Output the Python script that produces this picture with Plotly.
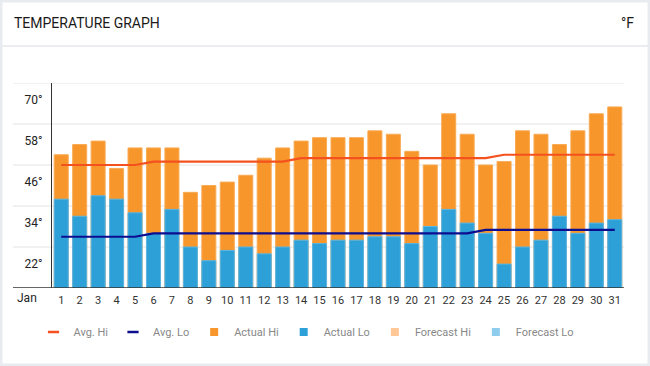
import plotly.graph_objects as go

# ---------------- data ----------------
days = list(range(1, 32))
day_labels = [str(d) for d in days]
actual_hi = [55, 58, 59, 51, 57, 57, 57, 44, 46, 47, 49, 54, 57, 59, 60, 60, 60, 62, 61, 56,
             52, 67, 61, 52, 53, 62, 61, 58, 62, 67, 69]
actual_lo = [42, 37, 43, 42, 38, 32, 39, 28, 24, 27, 28, 26, 28, 30, 29, 30, 30, 31, 31, 29,
             34, 39, 35, 32, 23, 28, 30, 37, 32, 35, 36]
avg_hi = [52] * 5 + [53] * 8 + [54] * 11 + [55] * 7
avg_lo = [31] * 5 + [32] * 18 + [33] * 8
y_ticks = [22, 34, 46, 58, 70]
y_tick_labels = [f"{v}°" for v in y_ticks]
grid_vals = [28, 40, 52, 64, 76]
y_min, y_max = 16, 76

# ---------------- style ----------------
W, H = 650, 366
L, R, T, B = 52, 26, 83, 78
PW, PH = W - L - R, H - T - B
ORANGE = "#F7962A"
BLUE = "#2EA0D8"
RED = "#F4511E"
NAVY = "#0D0D8F"
FC_HI = "#FFC896"
FC_LO = "#8FCDEE"
FONT = "Roboto"


def px_x(p):
    return (p - L) / PW


def px_y(p):
    return (H - B - p) / PH


fig = go.Figure()
fig.add_trace(go.Bar(x=days, y=actual_hi, name="Actual Hi", marker=dict(color=ORANGE, line=dict(color="#F9AB55", width=1)),
                     width=0.76, showlegend=False))
fig.add_trace(go.Bar(x=days, y=actual_lo, name="Actual Lo", marker=dict(color=BLUE, line=dict(color="#5BB5E2", width=1)),
                     width=0.76, showlegend=False))
fig.add_trace(go.Scatter(x=days, y=avg_hi, mode="lines", name="Avg. Hi", line=dict(color=RED, width=2.2), showlegend=False))
fig.add_trace(go.Scatter(x=days, y=avg_lo, mode="lines", name="Avg. Lo", line=dict(color=NAVY, width=2.2), showlegend=False))

# legend entries
fig.add_trace(go.Scatter(x=[None], y=[None], mode="markers", name="Avg. Hi",
                         marker=dict(symbol="line-ew", size=8, line=dict(color=RED, width=2.5))))
fig.add_trace(go.Scatter(x=[None], y=[None], mode="markers", name="Avg. Lo",
                         marker=dict(symbol="line-ew", size=8, line=dict(color=NAVY, width=2.5))))
for nm, c in [("Actual Hi", ORANGE), ("Actual Lo", BLUE), ("Forecast Hi", FC_HI), ("Forecast Lo", FC_LO)]:
    fig.add_trace(go.Scatter(x=[None], y=[None], mode="markers", name=nm,
                             marker=dict(symbol="square", size=8, color=c)))

shapes = []
for g in grid_vals:
    shapes.append(dict(type="line", xref="paper", yref="y", x0=px_x(13), x1=1, y0=g, y1=g,
                       line=dict(color="#E4E4E4", width=1), layer="below"))
shapes.append(dict(type="line", xref="paper", yref="y", x0=px_x(13), x1=1, y0=y_min, y1=y_min,
                   line=dict(color="#333333", width=1.5), layer="above"))
# header separator
shapes.append(dict(type="line", xref="paper", yref="paper", x0=px_x(0), x1=px_x(W), y0=px_y(46), y1=px_y(46),
                   line=dict(color="#E3E6EA", width=1.5)))
# card frame
shapes.append(dict(type="rect", xref="paper", yref="paper", x0=px_x(0), x1=px_x(W), y0=px_y(0), y1=px_y(H),
                   line=dict(color="#E8ECF0", width=5), fillcolor="rgba(0,0,0,0)"))

annotations = [
    dict(text="TEMPERATURE GRAPH", xref="paper", yref="paper", x=px_x(12), y=px_y(23), xanchor="left", yanchor="middle",
         showarrow=False, font=dict(family=FONT, size=14, color="#1A1A1A")),
    dict(text="°F", xref="paper", yref="paper", x=px_x(636), y=px_y(23), xanchor="right", yanchor="middle",
         showarrow=False, font=dict(family=FONT, size=14, color="#1A1A1A")),
    dict(text="Jan", xref="paper", yref="paper", x=px_x(27), y=px_y(298), xanchor="center", yanchor="middle",
         showarrow=False, font=dict(family=FONT, size=12, color="#222222")),
]

fig.update_layout(
    width=W, height=H,
    margin=dict(l=L, r=R, t=T, b=B, pad=0),
    paper_bgcolor="white", plot_bgcolor="white",
    barmode="overlay", bargap=0.24,
    font=dict(family=FONT, color="#222222"),
    shapes=shapes, annotations=annotations,
    legend=dict(orientation="h", x=px_x(306), xanchor="center", y=px_y(332), yanchor="middle",
                font=dict(family=FONT, size=11, color="#888888"), bgcolor="rgba(0,0,0,0)"),
    xaxis=dict(range=[0.5, 31.5], tickmode="array", tickvals=days, ticktext=day_labels, showgrid=False,
               zeroline=False, showline=False, ticks="", tickfont=dict(size=11, color="#333333"),
               ticklabelstandoff=4, fixedrange=True),
    yaxis=dict(range=[y_min, y_max], tickmode="array", tickvals=y_ticks, ticktext=y_tick_labels, showgrid=False,
               zeroline=False, showline=True, linecolor="#333333", linewidth=1.2, ticks="",
               tickfont=dict(size=12, color="#222222"), ticklabelstandoff=6, ticklabelshift=-4, fixedrange=True),
)

fig.write_html("out.html", config={"displayModeBar": False},
               post_script="document.body.style.margin='0';document.body.style.overflow='hidden';")
